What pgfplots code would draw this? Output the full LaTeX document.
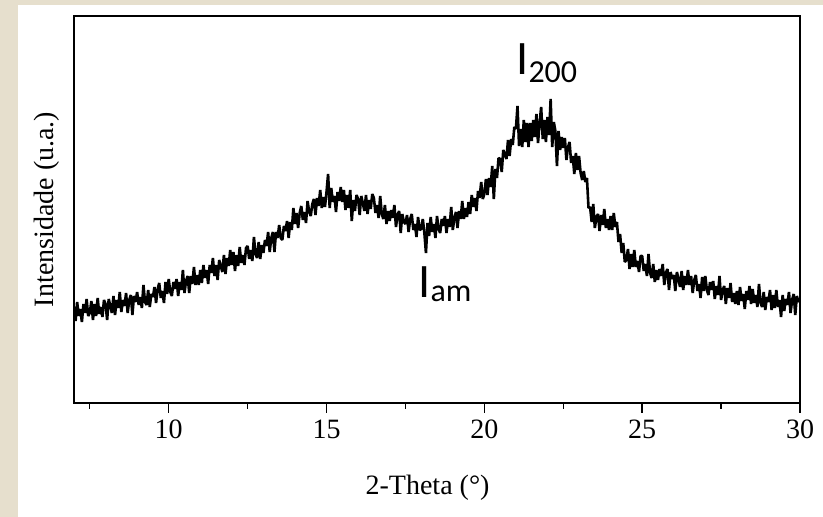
\documentclass[border=0pt]{standalone}
\usepackage{pgfplots}
\pgfplotsset{compat=1.18}
\usepackage{fontspec}
\setmainfont{Liberation Serif}
\newfontfamily\calib{Carlito}
\definecolor{beige}{RGB}{230,223,205}

\begin{document}
\begin{tikzpicture}
% page is 823 x 517 px, 1 px = 0.5pt
\fill[beige] (0pt,0pt) rectangle (411.5pt,258.5pt);
\fill[white] (9pt,0pt) rectangle (411.5pt,256pt);
\path[use as bounding box] (0pt,0pt) rectangle (411.5pt,258.5pt);

\begin{axis}[
    at={(37pt,57pt)}, anchor=south west,
    scale only axis,
    width=363pt, height=193.5pt,
    xmin=7, xmax=30,
    ymin=0, ymax=387,
    xtick={10,15,20,25,30},
    minor xtick={7.5,12.5,17.5,22.5,27.5},
    ytick=\empty,
    xtick pos=left,
    tick align=outside,
    major tick length=5pt,
    minor tick length=3pt,
    every tick/.style={black, line width=0.7pt},
    axis line style={black, line width=0.75pt},
    /pgf/number format/assume math mode=true,
    ticklabel style={font=\fontsize{14}{16}\selectfont},
    xlabel={2-Theta (°)},
    ylabel={Intensidade (u.a.)},
    label style={font=\fontsize{14}{16}\selectfont},
    xlabel style={at={(axis description cs:0.487,-0.2196)}, anchor=center},
    ylabel style={at={(axis description cs:-0.0372,0.5)}, anchor=center},
    clip=true,
    ]
    \addplot[black, line width=1.3pt, line join=bevel] coordinates {
    (7.00,96) (7.05,82) (7.10,101) (7.15,87) (7.20,94) (7.25,81) (7.30,99) (7.35,90) (7.40,104) (7.45,87)
    (7.50,90) (7.55,102) (7.60,83) (7.65,99) (7.70,87) (7.75,105) (7.80,89) (7.85,96) (7.90,86) (7.95,103)
    (8.00,99) (8.05,83) (8.10,104) (8.15,97) (8.20,90) (8.25,107) (8.30,88) (8.35,103) (8.40,95) (8.45,111)
    (8.50,91) (8.55,103) (8.60,97) (8.65,110) (8.70,90) (8.75,103) (8.80,108) (8.85,88) (8.90,107) (8.95,101)
    (9.00,111) (9.05,98) (9.10,106) (9.15,95) (9.20,118) (9.25,101) (9.30,98) (9.35,113) (9.40,96) (9.45,109)
    (9.50,106) (9.55,116) (9.60,100) (9.65,114) (9.70,120) (9.75,105) (9.80,112) (9.85,100) (9.90,121) (9.95,109)
    (10.00,124) (10.05,111) (10.10,107) (10.15,121) (10.20,114) (10.25,124) (10.30,107) (10.35,121) (10.40,113) (10.45,133)
    (10.50,110) (10.55,122) (10.60,127) (10.65,110) (10.70,127) (10.75,119) (10.80,136) (10.85,118) (10.90,128) (10.95,118)
    (11.00,133) (11.05,120) (11.10,138) (11.15,125) (11.20,133) (11.25,119) (11.30,138) (11.35,130) (11.40,145) (11.45,127)
    (11.50,138) (11.55,123) (11.60,143) (11.65,137) (11.70,131) (11.75,148) (11.80,129) (11.85,145) (11.90,137) (11.95,153)
    (12.00,138) (12.05,151) (12.10,132) (12.15,148) (12.20,137) (12.25,156) (12.30,140) (12.35,148) (12.40,138) (12.45,155)
    (12.50,157) (12.55,144) (12.60,153) (12.65,142) (12.70,166) (12.75,149) (12.80,145) (12.85,161) (12.90,144) (12.95,158)
    (13.00,150) (13.05,163) (13.10,157) (13.15,171) (13.20,151) (13.25,165) (13.30,171) (13.35,151) (13.40,171) (13.45,165)
    (13.50,178) (13.55,165) (13.60,163) (13.65,177) (13.70,172) (13.75,182) (13.80,165) (13.85,181) (13.90,173) (13.95,195)
    (14.00,179) (14.05,190) (14.10,175) (14.15,190) (14.20,197) (14.25,183) (14.30,191) (14.35,180) (14.40,202) (14.45,191)
    (14.50,187) (14.55,199) (14.60,204) (14.65,188) (14.70,205) (14.75,197) (14.80,213) (14.85,195) (14.90,206) (14.95,196)
    (15.00,211) (15.05,229) (15.10,195) (15.15,215) (15.20,201) (15.25,207) (15.30,191) (15.35,211) (15.40,202) (15.45,216)
    (15.50,201) (15.55,213) (15.60,193) (15.65,208) (15.70,195) (15.75,213) (15.80,182) (15.85,203) (15.90,192) (15.95,208)
    (16.00,204) (16.05,188) (16.10,207) (16.15,200) (16.20,192) (16.25,208) (16.30,189) (16.35,203) (16.40,194) (16.45,209)
    (16.50,205) (16.55,190) (16.60,198) (16.65,185) (16.70,207) (16.75,189) (16.80,184) (16.85,198) (16.90,179) (16.95,192)
    (17.00,182) (17.05,193) (17.10,185) (17.15,198) (17.20,176) (17.25,188) (17.30,192) (17.35,170) (17.40,189) (17.45,181)
    (17.50,179) (17.55,188) (17.60,171) (17.65,184) (17.70,189) (17.75,173) (17.80,179) (17.85,166) (17.90,186) (17.95,173)
    (18.00,174) (18.05,184) (18.10,170) (18.15,150) (18.20,180) (18.25,167) (18.30,186) (18.35,171) (18.40,179) (18.45,165)
    (18.50,187) (18.55,174) (18.60,170) (18.65,184) (18.70,177) (18.75,187) (18.80,170) (18.85,184) (18.90,176) (18.95,196)
    (19.00,173) (19.05,185) (19.10,191) (19.15,175) (19.20,192) (19.25,184) (19.30,202) (19.35,184) (19.40,195) (19.45,186)
    (19.50,201) (19.55,189) (19.60,208) (19.65,196) (19.70,205) (19.75,192) (19.80,212) (19.85,205) (19.90,221) (19.95,204)
    (20.00,209) (20.05,224) (20.10,208) (20.15,225) (20.20,216) (20.25,237) (20.30,204) (20.35,234) (20.40,225) (20.45,245)
    (20.50,244) (20.55,231) (20.60,253) (20.65,249) (20.70,244) (20.75,263) (20.80,247) (20.85,264) (20.90,258) (20.95,276)
    (21.00,274) (21.05,297) (21.10,257) (21.15,274) (21.20,256) (21.25,283) (21.30,261) (21.35,280) (21.40,256) (21.45,280)
    (21.50,262) (21.55,283) (21.60,266) (21.65,289) (21.70,260) (21.75,280) (21.80,296) (21.85,264) (21.90,283) (21.95,261)
    (22.00,286) (22.05,268) (22.10,304) (22.15,256) (22.20,281) (22.25,272) (22.30,237) (22.35,272) (22.40,253) (22.45,266)
    (22.50,255) (22.55,265) (22.60,243) (22.65,256) (22.70,261) (22.75,240) (22.80,247) (22.85,229) (22.90,250) (22.95,233)
    (23.00,247) (23.05,230) (23.10,223) (23.15,232) (23.20,221) (23.25,225) (23.30,195) (23.35,196) (23.40,181) (23.45,199)
    (23.50,175) (23.55,186) (23.60,189) (23.65,172) (23.70,188) (23.75,178) (23.80,194) (23.85,175) (23.90,184) (23.95,173)
    (24.00,187) (24.05,173) (24.10,190) (24.15,176) (24.20,181) (24.25,161) (24.30,169) (24.35,150) (24.40,160) (24.45,141)
    (24.50,143) (24.55,154) (24.60,134) (24.65,149) (24.70,136) (24.75,153) (24.80,136) (24.85,142) (24.90,131) (24.95,147)
    (25.00,147) (25.05,132) (25.10,139) (25.15,127) (25.20,149) (25.25,130) (25.30,125) (25.35,139) (25.40,121) (25.45,133)
    (25.50,123) (25.55,134) (25.60,127) (25.65,139) (25.70,118) (25.75,130) (25.80,134) (25.85,113) (25.90,131) (25.95,124)
    (26.00,128) (26.05,112) (26.10,131) (26.15,124) (26.20,116) (26.25,132) (26.30,113) (26.35,127) (26.40,118) (26.45,133)
    (26.50,118) (26.55,127) (26.60,110) (26.65,123) (26.70,128) (26.75,112) (26.80,119) (26.85,105) (26.90,126) (26.95,112)
    (27.00,127) (27.05,113) (27.10,108) (27.15,121) (27.20,113) (27.25,122) (27.30,104) (27.35,117) (27.40,108) (27.45,127)
    (27.50,103) (27.55,113) (27.60,117) (27.65,99) (27.70,115) (27.75,105) (27.80,120) (27.85,101) (27.90,110) (27.95,99)
    (28.00,112) (28.05,98) (28.10,116) (28.15,102) (28.20,109) (28.25,94) (28.30,112) (28.35,103) (28.40,117) (28.45,99)
    (28.50,114) (28.55,100) (28.60,108) (28.65,96) (28.70,119) (28.75,100) (28.80,96) (28.85,111) (28.90,93) (28.95,106)
    (29.00,101) (29.05,113) (29.10,93) (29.15,108) (29.20,95) (29.25,113) (29.30,96) (29.35,103) (29.40,86) (29.45,108)
    (29.50,92) (29.55,104) (29.60,98) (29.65,111) (29.70,90) (29.75,103) (29.80,109) (29.85,88) (29.90,107) (29.95,101)
    (30.00,104)
    };
\end{axis}

% peak annotations
\node[anchor=base west, inner sep=0pt] at (258pt,221pt)
    {\calib\fontsize{24}{24}\selectfont I\raisebox{-4pt}{\fontsize{16}{16}\selectfont 200}};
\node[anchor=base west, inner sep=0pt] at (209pt,109.5pt)
    {\calib\fontsize{24}{24}\selectfont I\raisebox{-2pt}{\fontsize{16}{16}\selectfont am}};
\end{tikzpicture}
\end{document}
